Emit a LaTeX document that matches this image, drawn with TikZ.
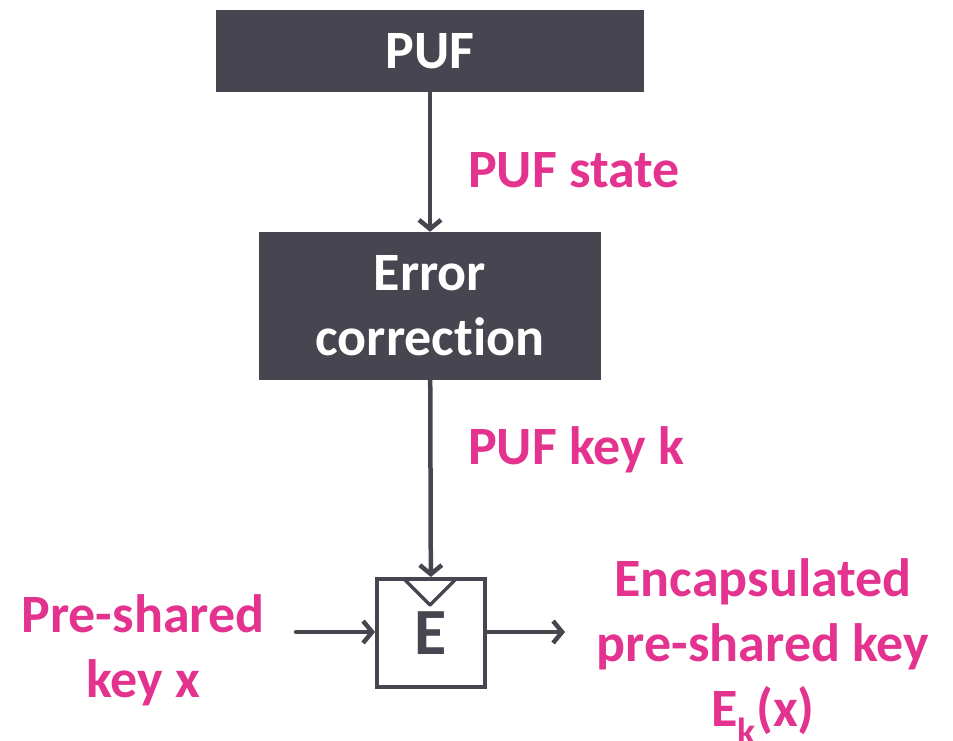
\documentclass[tikz,border=0pt]{standalone}
\usepackage{fontspec}
\setmainfont[Ligatures=NoCommon]{Carlito}
\usetikzlibrary{arrows.meta,positioning}
\definecolor{boxgray}{RGB}{70,69,80}
\definecolor{keypink}{RGB}{227,51,143}

\begin{document}
\begin{tikzpicture}[x=1pt, y=-1pt, >={Straight Barb[length=9pt,width=22pt]},
    every node/.style={font=\bfseries\fontsize{54}{65}\selectfont},
    block/.style={fill=boxgray, text=white, align=center, inner sep=0pt},
    lbl/.style={text=keypink, align=center, inner sep=0pt}]
    \useasboundingbox (0,0) rectangle (953,740);

    \node [block, minimum width=428pt, minimum height=82pt] (puf) at (430,51) {PUF};
    \node [block, minimum width=342pt, minimum height=148pt] (ecc) at (430,306) {Error\\correction};
    \node [draw=boxgray, line width=4pt, minimum size=108pt, inner sep=0pt,
           text=boxgray, font=\bfseries\fontsize{66}{70}\selectfont] (enc) at (431,633) {E};
    \draw [boxgray, line width=3.5pt, line join=round]
        (403,578) -- (430,605) -- (457,578);

    \node [lbl, anchor=west] (state) at (468,170) {PUF state};
    \node [lbl, anchor=west] (key) at (468,450) {PUF key k};
    \node [lbl] (psk) at (143,650) {Pre-shared\\key x};
    \node [lbl] (out) at (763,652) {Encapsulated\\pre-shared key\\E\textsubscript{k}(x)};
    \coordinate (pin) at (296,632);
    \coordinate (pout) at (565,632);

    \path [->, boxgray, line width=4.5pt, line cap=round]
        (puf) edge (ecc)
        (ecc) edge (enc)
        (pin) edge (enc.west |- pin)
        (enc.east |- pout) edge (pout);
\end{tikzpicture}
\end{document}
